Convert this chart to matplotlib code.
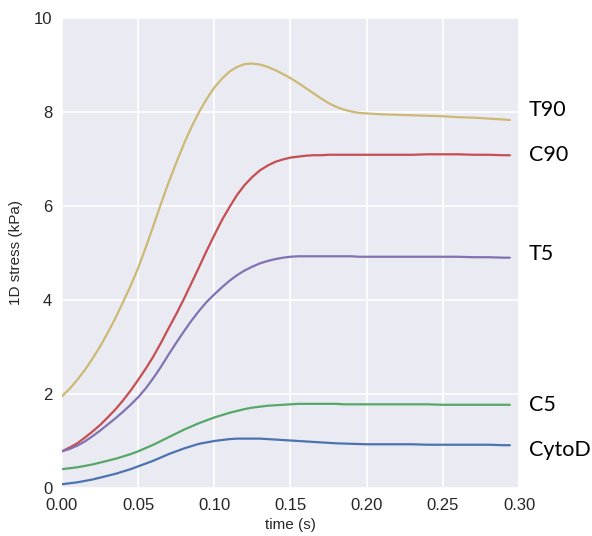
import numpy as np
import seaborn as sns
from matplotlib import pyplot as plt

sns.set_style("darkgrid")
plt.rcParams["font.family"] = ["Liberation Sans", "DejaVu Sans"]

# time axis (s)
time = [0.000, 0.005, 0.010, 0.015, 0.020, 0.025, 0.030, 0.035, 0.040, 0.045,
        0.050, 0.055, 0.060, 0.065, 0.070, 0.075, 0.080, 0.085, 0.090, 0.095,
        0.100, 0.105, 0.110, 0.115, 0.120, 0.125, 0.130, 0.135, 0.140, 0.145,
        0.150, 0.155, 0.160, 0.165, 0.170, 0.175, 0.180, 0.185, 0.190, 0.195,
        0.200, 0.210, 0.220, 0.230, 0.240, 0.250, 0.260, 0.270, 0.280, 0.290,
        0.294]

# 1D stress (kPa)
cytod = [0.08, 0.10, 0.12, 0.15, 0.18, 0.22, 0.26, 0.30, 0.35, 0.40,
         0.46, 0.52, 0.58, 0.65, 0.72, 0.78, 0.84, 0.89, 0.94, 0.97,
         1.00, 1.02, 1.04, 1.05, 1.05, 1.05, 1.05, 1.04, 1.03, 1.02,
         1.01, 1.00, 0.99, 0.98, 0.97, 0.96, 0.95, 0.945, 0.94, 0.935,
         0.93, 0.93, 0.93, 0.93, 0.92, 0.92, 0.92, 0.92, 0.92, 0.91,
         0.91]
c5 = [0.40, 0.42, 0.44, 0.47, 0.50, 0.54, 0.58, 0.62, 0.67, 0.72,
      0.78, 0.85, 0.92, 1.00, 1.08, 1.16, 1.24, 1.31, 1.38, 1.44,
      1.50, 1.55, 1.60, 1.64, 1.68, 1.71, 1.73, 1.75, 1.76, 1.77,
      1.78, 1.79, 1.79, 1.79, 1.79, 1.79, 1.79, 1.78, 1.78, 1.78,
      1.78, 1.78, 1.78, 1.78, 1.78, 1.77, 1.77, 1.77, 1.77, 1.77,
      1.77]
c90 = [0.78, 0.86, 0.95, 1.07, 1.20, 1.34, 1.50, 1.67, 1.86, 2.07,
       2.30, 2.54, 2.80, 3.09, 3.40, 3.70, 4.02, 4.36, 4.70, 5.05,
       5.38, 5.70, 5.98, 6.24, 6.45, 6.62, 6.76, 6.86, 6.94, 6.99,
       7.03, 7.05, 7.07, 7.08, 7.08, 7.09, 7.09, 7.09, 7.09, 7.09,
       7.09, 7.09, 7.09, 7.09, 7.10, 7.10, 7.10, 7.09, 7.09, 7.08,
       7.08]
t5 = [0.78, 0.83, 0.90, 0.99, 1.10, 1.22, 1.35, 1.48, 1.62, 1.77,
      1.93, 2.12, 2.34, 2.58, 2.84, 3.09, 3.33, 3.56, 3.77, 3.96,
      4.12, 4.27, 4.41, 4.53, 4.63, 4.71, 4.78, 4.83, 4.87, 4.90,
      4.92, 4.93, 4.93, 4.93, 4.93, 4.93, 4.93, 4.93, 4.93, 4.92,
      4.92, 4.92, 4.92, 4.92, 4.92, 4.92, 4.92, 4.91, 4.91, 4.90,
      4.90]
t90 = [1.95, 2.11, 2.30, 2.51, 2.75, 3.01, 3.30, 3.61, 3.95, 4.30,
       4.68, 5.12, 5.58, 6.05, 6.50, 6.92, 7.32, 7.68, 8.00, 8.28,
       8.52, 8.71, 8.86, 8.96, 9.02, 9.03, 9.01, 8.96, 8.89, 8.81,
       8.72, 8.62, 8.51, 8.40, 8.29, 8.19, 8.11, 8.05, 8.01, 7.98,
       7.97, 7.95, 7.94, 7.93, 7.92, 7.91, 7.89, 7.88, 7.86, 7.84,
       7.83]

series = [cytod, c5, c90, t5, t90]
names = ["CytoD", "C5", "C90", "T5", "T90"]
colors = ["#4C72B0", "#55A868", "#C44E52", "#8172B2", "#CCB974"]
label_shift = [-0.10, 0.0, 0.0, 0.08, 0.22]

fig = plt.figure(figsize=(5.92, 5.36), dpi=100, facecolor="white")
ax = fig.add_axes([0.1047, 0.0896, 0.772, 0.8768])
ax.set_facecolor("#EAEAF2")

for ys, name, col, dy in zip(series, names, colors, label_shift):
    ax.plot(time, ys, color=col, lw=1.6)
    ax.text(0.3065, ys[-1] + dy, name, fontsize=15.5, color="black",
            family=["Lato", "DejaVu Sans"], va="center", ha="left", clip_on=False)

ax.set_xlim(0, 0.30)
ax.set_ylim(0, 10)
xt = [0.00, 0.05, 0.10, 0.15, 0.20, 0.25, 0.30]
ax.set_xticks(xt)
ax.set_xticklabels([f"{v:.2f}" for v in xt])
ax.set_yticks([0, 2, 4, 6, 8, 10])
ax.tick_params(labelsize=12, labelcolor="#262626", length=0, pad=7)
ax.grid(True, color="white", lw=1.2)
for s in ax.spines.values():
    s.set_visible(False)

ax.set_xlabel("time (s)", fontsize=11, color="#262626", labelpad=4)
ax.set_ylabel("1D stress (kPa)", fontsize=11, color="#262626", labelpad=8)

plt.savefig("out.png", dpi=100)
plt.close()
